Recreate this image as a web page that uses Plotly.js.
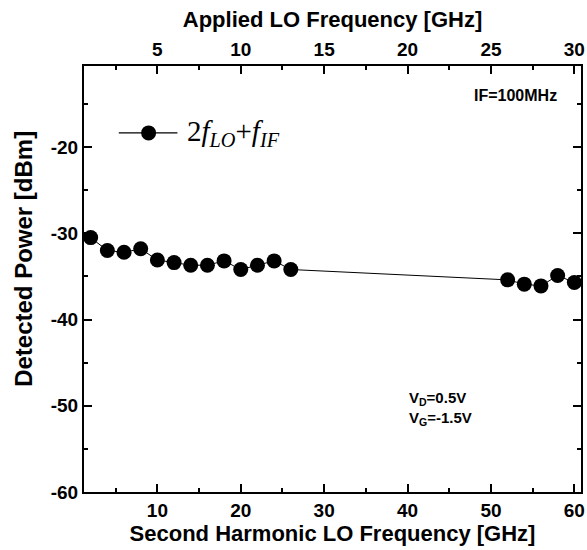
<!DOCTYPE html>
<html>
<head>
<meta charset="utf-8">
<script src="https://cdn.plot.ly/plotly-3.0.1.min.js"></script>
<style>html,body{margin:0;padding:0;background:#fff;}#chart{width:587px;height:550px;}</style>
</head>
<body>
<div id="chart"></div>
<script>
// Second harmonic LO frequency [GHz]
const secondHarmonicGHz = [2, 4, 6, 8, 10, 12, 14, 16, 18, 20, 22, 24, 26, 52, 54, 56, 58, 60];
// Detected power [dBm]
const detectedPowerDBm = [-30.5, -32.0, -32.2, -31.8, -33.1, -33.4, -33.7, -33.7, -33.2, -34.2, -33.7, -33.2, -34.2, -35.4, -35.9, -36.1, -34.9, -35.7];
// Applied LO frequency [GHz] (half of the second harmonic)
const appliedLOGHz = [1, 2, 3, 4, 5, 6, 7, 8, 9, 10, 11, 12, 13, 26, 27, 28, 29, 30];

// Tick labels
const yTickVals = [-60, -50, -40, -30, -20];
const yTickText = ['-60', '-50', '-40', '-30', '-20'];
const xTickVals = [10, 20, 30, 40, 50, 60];
const xTickText = ['10', '20', '30', '40', '50', '60'];
const x2TickVals = [5, 10, 15, 20, 25, 30];
const x2TickText = ['5', '10', '15', '20', '25', '30'];

const seriesName = '2<i>f</i><sub><i>LO</i></sub>+<i>f</i><sub><i>IF</i></sub>';
const bottomTitle = 'Second Harmonic LO Frequency [GHz]';
const topTitle = 'Applied LO Frequency [GHz]';
const yTitle = 'Detected Power [dBm]';
const ifLabel = 'IF=100MHz';
const vdLabel = 'V<sub>D</sub>=0.5V';
const vgLabel = 'V<sub>G</sub>=-1.5V';

const SANS = 'Arial, Liberation Sans, sans-serif';
function bf(size) { return {family: SANS, size: size, color: '#000', weight: 'bold'}; }

const traces = [
  {
    x: secondHarmonicGHz, y: detectedPowerDBm, type: 'scatter', mode: 'lines+markers',
    name: seriesName, showlegend: false,
    line: {color: '#000', width: 1},
    marker: {color: '#000', size: 15, symbol: 'circle'}
  },
  {
    x: appliedLOGHz, y: detectedPowerDBm, type: 'scatter', mode: 'markers',
    xaxis: 'x2', yaxis: 'y', showlegend: false, hoverinfo: 'skip',
    marker: {color: '#000', size: 15, opacity: 0}
  }
];

const layout = {
  width: 587, height: 550,
  margin: {l: 84, r: 6, t: 66, b: 58},
  paper_bgcolor: '#fff', plot_bgcolor: '#fff',
  showlegend: false,
  font: bf(18),
  xaxis: {
    range: [1.2, 60.8], tickmode: 'array', tickvals: xTickVals, ticktext: xTickText,
    ticks: 'inside', ticklen: 8, tickwidth: 2, tickcolor: '#000',
    minor: {dtick: 5, tick0: 0, ticks: 'inside', ticklen: 4, tickwidth: 2, tickcolor: '#000'},
    showline: true, linewidth: 2, linecolor: '#000', mirror: true,
    showgrid: false, zeroline: false,
    tickfont: bf(19),
    title: {text: bottomTitle, font: bf(22), standoff: 6}
  },
  xaxis2: {
    overlaying: 'x', side: 'top', anchor: 'y',
    range: [0.6, 30.4], tickmode: 'array', tickvals: x2TickVals, ticktext: x2TickText,
    ticks: 'inside', ticklen: 8, tickwidth: 2, tickcolor: '#000',
    minor: {dtick: 2.5, tick0: 0, ticks: 'inside', ticklen: 4, tickwidth: 2, tickcolor: '#000'},
    showline: true, linewidth: 2, linecolor: '#000',
    showgrid: false, zeroline: false,
    tickfont: bf(19),
    title: {text: topTitle, font: bf(22), standoff: 6}
  },
  yaxis: {
    range: [-60, -10.6], tickmode: 'array', tickvals: yTickVals, ticktext: yTickText,
    ticks: 'inside', ticklen: 8, tickwidth: 2, tickcolor: '#000',
    minor: {dtick: 5, tick0: 0, ticks: 'inside', ticklen: 4, tickwidth: 2, tickcolor: '#000'},
    showline: true, linewidth: 2, linecolor: '#000', mirror: 'ticks',
    showgrid: false, zeroline: false,
    tickfont: bf(19)
  },
  annotations: [
    {xref: 'paper', yref: 'paper', x: -0.123, y: 0.5, xanchor: 'center', yanchor: 'middle',
     yshift: 20, textangle: -90, showarrow: false, text: yTitle, font: bf(24)},
    {xref: 'paper', yref: 'paper', x: 0.955, y: 0.93, xanchor: 'right', yanchor: 'middle',
     showarrow: false, text: ifLabel, font: bf(16)},
    {xref: 'paper', yref: 'paper', x: 0.65, y: 0.22, xanchor: 'left', yanchor: 'middle',
     showarrow: false, text: vdLabel, font: bf(15)},
    {xref: 'paper', yref: 'paper', x: 0.65, y: 0.172, xanchor: 'left', yanchor: 'middle',
     showarrow: false, text: vgLabel, font: bf(15)},
    {xref: 'paper', yref: 'paper', x: 0.204, y: 0.843, xanchor: 'left', yanchor: 'middle',
     showarrow: false, text: seriesName,
     font: {family: 'Liberation Serif, Times New Roman, serif', size: 29, color: '#000', weight: 'normal'}}
  ],
  shapes: [
    {type: 'line', xref: 'paper', yref: 'paper', x0: 0.07, x1: 0.188, y0: 0.843, y1: 0.843,
     line: {color: '#000', width: 1.2}},
    {type: 'circle', xref: 'paper', yref: 'paper', xsizemode: 'pixel', ysizemode: 'pixel',
     xanchor: 0.13, yanchor: 0.843, x0: -7.5, x1: 7.5, y0: -7.5, y1: 7.5,
     fillcolor: '#000', line: {color: '#000', width: 0}}
  ]
};

Plotly.newPlot('chart', traces, layout, {displayModeBar: false, staticPlot: true});
</script>
</body>
</html>
